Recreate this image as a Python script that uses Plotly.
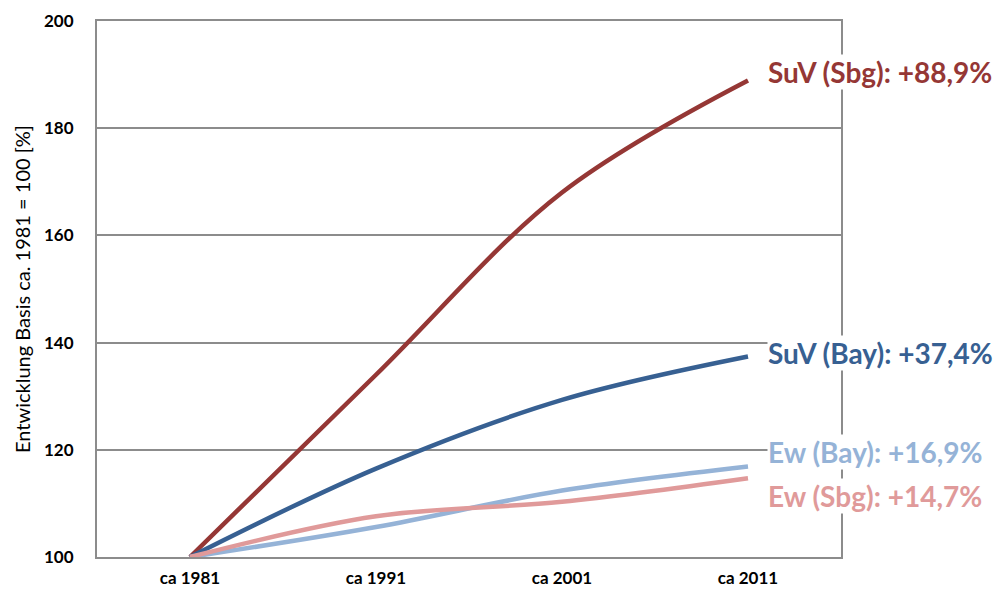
import plotly.graph_objects as go

# Index development, ca. 1981 = 100
years = ["ca 1981", "ca 1991", "ca 2001", "ca 2011"]
suv_sbg = [100, 134.0, 168.0, 188.9]
suv_bay = [100, 116.5, 129.3, 137.4]
ew_bay = [100, 105.6, 112.4, 116.9]
ew_sbg = [100, 107.6, 110.3, 114.7]

series_names = ["SuV (Sbg)", "SuV (Bay)", "Ew (Bay)", "Ew (Sbg)"]
series_values = [suv_sbg, suv_bay, ew_bay, ew_sbg]
colors = ["#953735", "#376092", "#95B3D7", "#E09A9A"]
# vertical nudge (in axis units) for end labels so they don't collide
label_nudge = [1.6, 0.6, 2.7, -3.4]

y_ticks = [100, 120, 140, 160, 180, 200]

FONT = "Lato, Open Sans, sans-serif"

fig = go.Figure()
for name, vals, col in zip(series_names, series_values, colors):
    fig.add_trace(go.Scatter(
        x=years, y=vals, name=name, mode="lines",
        line=dict(color=col, width=4.5, shape="spline", smoothing=1),
        showlegend=False, hoverinfo="skip",
    ))

for name, vals, col, dy in zip(series_names, series_values, colors, label_nudge):
    pct = vals[-1] - vals[0]
    txt = f"{name}: +{pct:.1f}%".replace(".", ",")
    fig.add_annotation(
        x=years[-1], y=vals[-1] + dy, xref="x", yref="y",
        text=f"<b>{txt}</b>", showarrow=False,
        xanchor="left", yanchor="middle", xshift=19,
        font=dict(family=FONT, size=28, color=col),
        bgcolor="white", borderpad=0,
    )

fig.update_layout(
    width=1003, height=591,
    margin=dict(l=97, r=162, t=21, b=34),
    paper_bgcolor="white", plot_bgcolor="white",
    font=dict(family=FONT, color="black"),
)
fig.update_xaxes(
    type="category", range=[-0.5, 3.5], automargin=False,
    showgrid=False, showline=True, linecolor="#8c8c8c", linewidth=2,
    mirror=True, ticks="", ticklabelstandoff=5,
    tickfont=dict(size=17, family=FONT, weight="bold"),
)
fig.update_yaxes(
    range=[100, 200], tickvals=y_ticks, automargin=False,
    showgrid=True, gridcolor="#8c8c8c", gridwidth=2,
    showline=True, linecolor="#8c8c8c", linewidth=2, mirror=True,
    ticks="", ticklabelstandoff=18, zeroline=False,
    tickfont=dict(size=17, family=FONT, weight="bold"),
    title=dict(text="Entwicklung Basis ca. 1981 = 100 [%]", standoff=8,
               font=dict(size=20, family=FONT)),
)

fig.write_html("out.html")
